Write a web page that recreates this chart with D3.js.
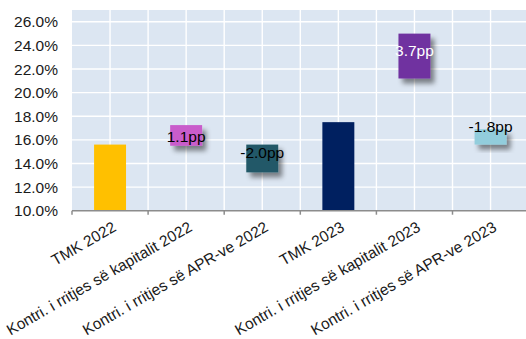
<!DOCTYPE html>
<html>
<head>
<meta charset="utf-8">
<script src="https://cdn.jsdelivr.net/npm/d3@7"></script>
<style>
  html, body { margin: 0; padding: 0; background: #ffffff; }
  svg { display: block; }
  text { font-family: Arial, "Liberation Sans", sans-serif; }
</style>
</head>
<body>
<svg id="chart" width="526" height="339"></svg>
<script>
// ---- data ----
const categories = [
  "TMK 2022",
  "Kontri. i rritjes së kapitalit 2022",
  "Kontri. i rritjes së APR-ve 2022",
  "TMK 2023",
  "Kontri. i rritjes së kapitalit 2023",
  "Kontri. i rritjes së APR-ve 2023"
];
const barLow  = [10.0, 15.5, 13.25, 10.0, 21.2, 15.6];
const barHigh = [15.6, 17.25, 15.6, 17.5, 25.0, 16.9];
const isFloating = [false, true, true, false, true, true];
const labels = ["", "1.1pp", "-2.0pp", "", "3.7pp", "-1.8pp"];
const labelAt = [null, 16.25, 14.9, null, 23.55, 17.15];
const barColors = ["#FFC000", "#C95CCB", "#215967", "#002060", "#7030A0", "#92CDDC"];
const labelColors = ["#000", "#000", "#000", "#000", "#ffffff", "#000"];
const yTicks = [10, 12, 14, 16, 18, 20, 22, 24, 26];

// ---- layout ----
const svg = d3.select("#chart");
const pLeft = 72, pRight = 528.6, pTop = 10, pBottom = 210.7;

const x = d3.scaleBand().domain(categories).range([pLeft, pRight])
  .paddingInner(0.58).paddingOuter(0.29);
const y = d3.scaleLinear().domain([10, 27]).range([pBottom, pTop]);
const step = x.step();

const defs = svg.append("defs");
const f = defs.append("filter").attr("id", "shadow")
  .attr("x", "-50%").attr("y", "-50%").attr("width", "200%").attr("height", "200%");
f.append("feDropShadow").attr("dx", 4).attr("dy", 5).attr("stdDeviation", 2.6)
  .attr("flood-color", "#000").attr("flood-opacity", 0.45);

// plot background
svg.append("rect").attr("x", pLeft).attr("y", pTop)
  .attr("width", pRight - pLeft).attr("height", pBottom - pTop)
  .attr("fill", "#DCE6F2");

// horizontal gridlines
svg.append("g").selectAll("line").data(yTicks.filter(d => d > 10)).join("line")
  .attr("x1", pLeft).attr("x2", pRight)
  .attr("y1", d => y(d)).attr("y2", d => y(d))
  .attr("stroke", "#ffffff").attr("stroke-width", 1.4);

// vertical gridlines (category boundaries and centers)
const vlines = [];
categories.forEach(c => { vlines.push(x(c) - (step - x.bandwidth()) / 2); vlines.push(x(c) + x.bandwidth() / 2); });
vlines.push(pRight);
svg.append("g").selectAll("line").data(vlines.slice(1)).join("line")
  .attr("x1", d => d).attr("x2", d => d)
  .attr("y1", pTop).attr("y2", pBottom)
  .attr("stroke", "#ffffff").attr("stroke-width", 1.4);

// bars
svg.append("g").selectAll("rect").data(categories).join("rect")
  .attr("x", d => x(d))
  .attr("width", x.bandwidth())
  .attr("y", (d, i) => y(barHigh[i]))
  .attr("height", (d, i) => y(barLow[i]) - y(barHigh[i]))
  .attr("fill", (d, i) => barColors[i])
  .attr("filter", (d, i) => isFloating[i] ? "url(#shadow)" : null);

// value labels
svg.append("g").selectAll("text").data(categories.filter((d, i) => labels[i])).join("text")
  .attr("x", d => x(d) + x.bandwidth() / 2)
  .attr("y", d => y(labelAt[categories.indexOf(d)]))
  .attr("dy", "0.36em")
  .attr("text-anchor", "middle")
  .attr("font-size", 15.5)
  .attr("fill", d => labelColors[categories.indexOf(d)])
  .text(d => labels[categories.indexOf(d)]);

// y axis labels
svg.append("g").selectAll("text").data(yTicks).join("text")
  .attr("x", 58).attr("y", d => y(d)).attr("dy", "0.36em")
  .attr("text-anchor", "end").attr("font-size", 15.5).attr("fill", "#1a1a1a")
  .text(d => d.toFixed(1) + "%");

// x axis
const xAxisG = svg.append("g").attr("transform", `translate(0,${pBottom})`);
xAxisG.append("line").attr("x1", pLeft).attr("x2", pRight)
  .attr("stroke", "#8c8c8c").attr("stroke-width", 1.5);
const tickXs = categories.map(c => x(c) - (step - x.bandwidth()) / 2).concat([pRight]);
xAxisG.selectAll("line.tick").data(tickXs).join("line").attr("class", "tick")
  .attr("x1", d => d).attr("x2", d => d).attr("y1", 0).attr("y2", 4)
  .attr("stroke", "#8c8c8c").attr("stroke-width", 1.5);

svg.append("g").selectAll("text").data(categories).join("text")
  .attr("transform", d => `translate(${x(d) + x.bandwidth() / 2 + 1.5},220.5) rotate(-30)`)
  .attr("text-anchor", "end")
  .attr("dy", "0.72em")
  .attr("font-size", 15.5).attr("fill", "#1a1a1a")
  .text(d => d);
</script>
</body>
</html>
